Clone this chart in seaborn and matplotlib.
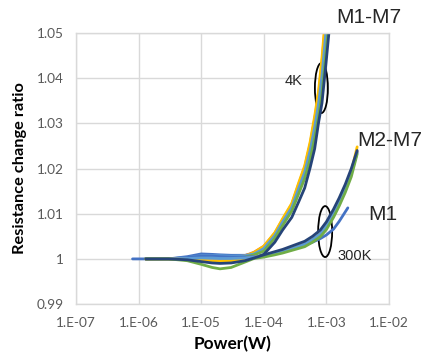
import matplotlib
matplotlib.use("Agg")
import numpy as np
import pandas as pd
import matplotlib.pyplot as plt
import seaborn as sns
from matplotlib.patches import Ellipse
from matplotlib.ticker import FixedLocator, NullLocator

# ---------------- data ----------------
x_ticks = [1e-7, 1e-6, 1e-5, 1e-4, 1e-3, 1e-2]
x_tick_labels = ["1.E-07", "1.E-06", "1.E-05", "1.E-04", "1.E-03", "1.E-02"]
y_ticks = [0.99, 1.00, 1.01, 1.02, 1.03, 1.04, 1.05]
y_tick_labels = ["0.99", "1", "1.01", "1.02", "1.03", "1.04", "1.05"]

# 4K measurements (M1..M7)
power_4k = [1.3e-6, 3e-6, 6e-6, 1e-5, 1.5e-5, 2e-5, 3e-5, 5e-5, 7e-5, 1e-4,
            1.5e-4, 2e-4, 2.8e-4, 3.6e-4, 4.5e-4, 5.5e-4, 6.5e-4, 7.5e-4,
            8.5e-4, 1e-3, 1.1e-3, 1.2e-3]
r4k_m1 = [1.0, 1.0, 1.0005, 1.0011, 1.0010, 1.0009, 1.0008, 1.0008, 1.0012, 1.0020,
          1.0049, 1.0078, 1.0110, 1.0150, 1.0185, 1.0230, 1.0280, 1.0330, 1.0385,
          1.0490, 1.0550, 1.0610]
r4k_m2 = [1.0, 1.0, 1.0001, 1.0002, 1.0002, 1.0002, 1.0003, 1.0007, 1.0015, 1.0028,
          1.0057, 1.0087, 1.0121, 1.0165, 1.0203, 1.0254, 1.0310, 1.0365, 1.0435,
          1.0550, 1.0610, 1.0660]
r4k_m3 = [1.0, 1.0, 1.0001, 1.0002, 1.0002, 1.0002, 1.0002, 1.0005, 1.0011, 1.0021,
          1.0050, 1.0080, 1.0112, 1.0153, 1.0188, 1.0235, 1.0286, 1.0337, 1.0395,
          1.0502, 1.0562, 1.0620]
r4k_m4 = [1.0, 1.0, 1.0, 1.0, 0.9999, 0.9999, 1.0, 1.0006, 1.0014, 1.0028,
          1.0058, 1.0089, 1.0123, 1.0168, 1.0206, 1.0259, 1.0316, 1.0372, 1.0445,
          1.0562, 1.0622, 1.0670]
r4k_m5 = [1.0, 1.0, 1.0003, 1.0007, 1.0007, 1.0007, 1.0006, 1.0007, 1.0011, 1.0023,
          1.0052, 1.0082, 1.0114, 1.0156, 1.0192, 1.0240, 1.0292, 1.0344, 1.0405,
          1.0514, 1.0574, 1.0630]
r4k_m6 = [1.0, 1.0, 1.0, 1.0, 1.0, 1.0, 1.0001, 1.0004, 1.0009, 1.0017,
          1.0046, 1.0074, 1.0106, 1.0144, 1.0178, 1.0220, 1.0268, 1.0316, 1.0365,
          1.0466, 1.0526, 1.0590]
r4k_m7 = [1.0, 1.0, 0.9999, 0.9997, 0.9996, 0.9996, 0.9996, 0.9998, 1.0002, 1.0010,
          1.0037, 1.0064, 1.0092, 1.0126, 1.0157, 1.0202, 1.0244, 1.0302, 1.0345,
          1.0442, 1.0502, 1.0570]

# 300K measurements
power_300k_m1 = [8e-7, 1.3e-6, 3e-6, 6e-6, 1e-5, 1.5e-5, 2e-5, 3e-5, 5e-5, 7e-5,
                 1e-4, 1.5e-4, 2e-4, 3e-4, 4.5e-4, 6e-4, 8e-4, 1e-3, 1.3e-3,
                 1.6e-3, 2.2e-3]
r300k_m1 = [1.0, 1.0, 1.0, 1.0003, 1.0006, 1.0006, 1.0005, 1.0004, 1.0004, 1.0005,
            1.0006, 1.0012, 1.0016, 1.0023, 1.0030, 1.0037, 1.0045, 1.0053, 1.0066,
            1.0083, 1.0113]
power_300k = [1.3e-6, 3e-6, 6e-6, 1e-5, 1.5e-5, 2e-5, 3e-5, 5e-5, 7e-5, 1e-4,
              1.5e-4, 2e-4, 3e-4, 4.5e-4, 6e-4, 8e-4, 1e-3, 1.3e-3, 1.6e-3,
              2e-3, 2.5e-3, 3.1e-3]
r300k_m2 = [1.0, 1.0, 1.0, 0.9999, 0.9998, 0.9998, 0.9999, 1.0001, 1.0004, 1.0007,
            1.0013, 1.0017, 1.0024, 1.0032, 1.0042, 1.0055, 1.0072, 1.0100, 1.0125,
            1.0156, 1.0191, 1.0238]
r300k_m3 = [1.0, 1.0, 1.0, 0.9999, 0.9998, 0.9998, 0.9998, 1.0, 1.0003, 1.0006,
            1.0012, 1.0016, 1.0024, 1.0032, 1.0042, 1.0055, 1.0072, 1.0100, 1.0125,
            1.0155, 1.0190, 1.0236]
r300k_m4 = [1.0, 1.0, 0.9999, 0.9997, 0.9995, 0.9995, 0.9996, 0.9999, 1.0003, 1.0006,
            1.0012, 1.0017, 1.0025, 1.0033, 1.0043, 1.0056, 1.0073, 1.0101, 1.0127,
            1.0157, 1.0193, 1.0248]
r300k_m5 = [1.0, 1.0, 1.0001, 1.0002, 1.0002, 1.0001, 1.0001, 1.0002, 1.0004, 1.0006,
            1.0012, 1.0016, 1.0024, 1.0033, 1.0043, 1.0056, 1.0073, 1.0101, 1.0126,
            1.0156, 1.0190, 1.0236]
r300k_m6 = [1.0, 1.0, 0.9996, 0.9988, 0.9981, 0.9978, 0.9981, 0.9993, 1.0001, 1.0004,
            1.0009, 1.0013, 1.0020, 1.0027, 1.0037, 1.0049, 1.0065, 1.0092, 1.0117,
            1.0147, 1.0182, 1.0232]
r300k_m7 = [1.0, 1.0, 0.9998, 0.9994, 0.9991, 0.9990, 0.9991, 0.9996, 1.0002, 1.0009,
            1.0016, 1.0021, 1.0030, 1.0039, 1.0050, 1.0064, 1.0082, 1.0110, 1.0135,
            1.0165, 1.0200, 1.0240]

metal_colors = ["#4472C4", "#ED7D31", "#A5A5A5", "#FFC000", "#5B9BD5", "#70AD47", "#264478"]

# ---------------- build long table ----------------
curves = [
    ("4K M1", power_4k, r4k_m1, 0), ("4K M2", power_4k, r4k_m2, 1),
    ("4K M3", power_4k, r4k_m3, 2), ("4K M4", power_4k, r4k_m4, 3),
    ("4K M5", power_4k, r4k_m5, 4), ("4K M6", power_4k, r4k_m6, 5),
    ("4K M7", power_4k, r4k_m7, 6),
    ("300K M1", power_300k_m1, r300k_m1, 0), ("300K M2", power_300k, r300k_m2, 1),
    ("300K M3", power_300k, r300k_m3, 2), ("300K M4", power_300k, r300k_m4, 3),
    ("300K M5", power_300k, r300k_m5, 4), ("300K M6", power_300k, r300k_m6, 5),
    ("300K M7", power_300k, r300k_m7, 6),
]
frames = []
palette = {}
for name, px, ry, ci in curves:
    frames.append(pd.DataFrame({"power": px, "ratio": ry, "series": name}))
    palette[name] = metal_colors[ci]
df = pd.concat(frames, ignore_index=True)

# ---------------- plot ----------------
sns.set_theme(style="white")
plt.rcParams["font.family"] = ["Lato", "DejaVu Sans"]

fig = plt.figure(figsize=(4.27, 3.59), dpi=100)
ax = fig.add_axes([0.178, 0.153, 0.733, 0.755])

sns.lineplot(data=df, x="power", y="ratio", hue="series", palette=palette,
             estimator=None, sort=True, legend=False, linewidth=2.0, ax=ax)

ax.set_xscale("log")
ax.set_xlim(1e-7, 1e-2)
ax.set_ylim(0.99, 1.05)
ax.xaxis.set_major_locator(FixedLocator(x_ticks))
ax.xaxis.set_minor_locator(NullLocator())
ax.set_xticklabels(x_tick_labels)
ax.yaxis.set_major_locator(FixedLocator(y_ticks))
ax.set_yticklabels(y_tick_labels)
ax.tick_params(axis="both", length=0, labelsize=9.8, labelcolor="#595959", pad=9)

ax.grid(True, color="#d9d9d9", linewidth=1.0)
ax.set_axisbelow(True)
for sp in ax.spines.values():
    sp.set_color("#d9d9d9")
    sp.set_linewidth(1.0)

ax.set_xlabel("Power(W)", fontsize=12.4, fontweight="bold", color="black", labelpad=5)
ax.set_ylabel("Resistance change ratio", fontsize=11.8, fontweight="bold", color="black", labelpad=7)

# annotations
arial = ["Liberation Sans", "DejaVu Sans"]
ax.text(0.936, 1.059, "M1-M7", transform=ax.transAxes, ha="center", va="center",
        fontsize=15, family=arial, clip_on=False)
ax.text(1.003, 0.603, "M2-M7", transform=ax.transAxes, ha="center", va="center",
        fontsize=15, family=arial, clip_on=False)
ax.text(0.981, 0.332, "M1", transform=ax.transAxes, ha="center", va="center",
        fontsize=15, family=arial, clip_on=False)
ax.text(0.695, 0.823, "4K", transform=ax.transAxes, ha="center", va="center",
        fontsize=10.5, family=arial)
ax.text(0.890, 0.177, "300K", transform=ax.transAxes, ha="center", va="center",
        fontsize=10.5, family=arial)

ax.add_patch(Ellipse((0.784, 0.797), 0.0415, 0.1845, transform=ax.transAxes,
                     fill=False, edgecolor="black", linewidth=1.3, clip_on=False))
ax.add_patch(Ellipse((0.796, 0.2675), 0.0447, 0.188, transform=ax.transAxes,
                     fill=False, edgecolor="black", linewidth=1.3, clip_on=False))

fig.savefig("out.png", dpi=100)
